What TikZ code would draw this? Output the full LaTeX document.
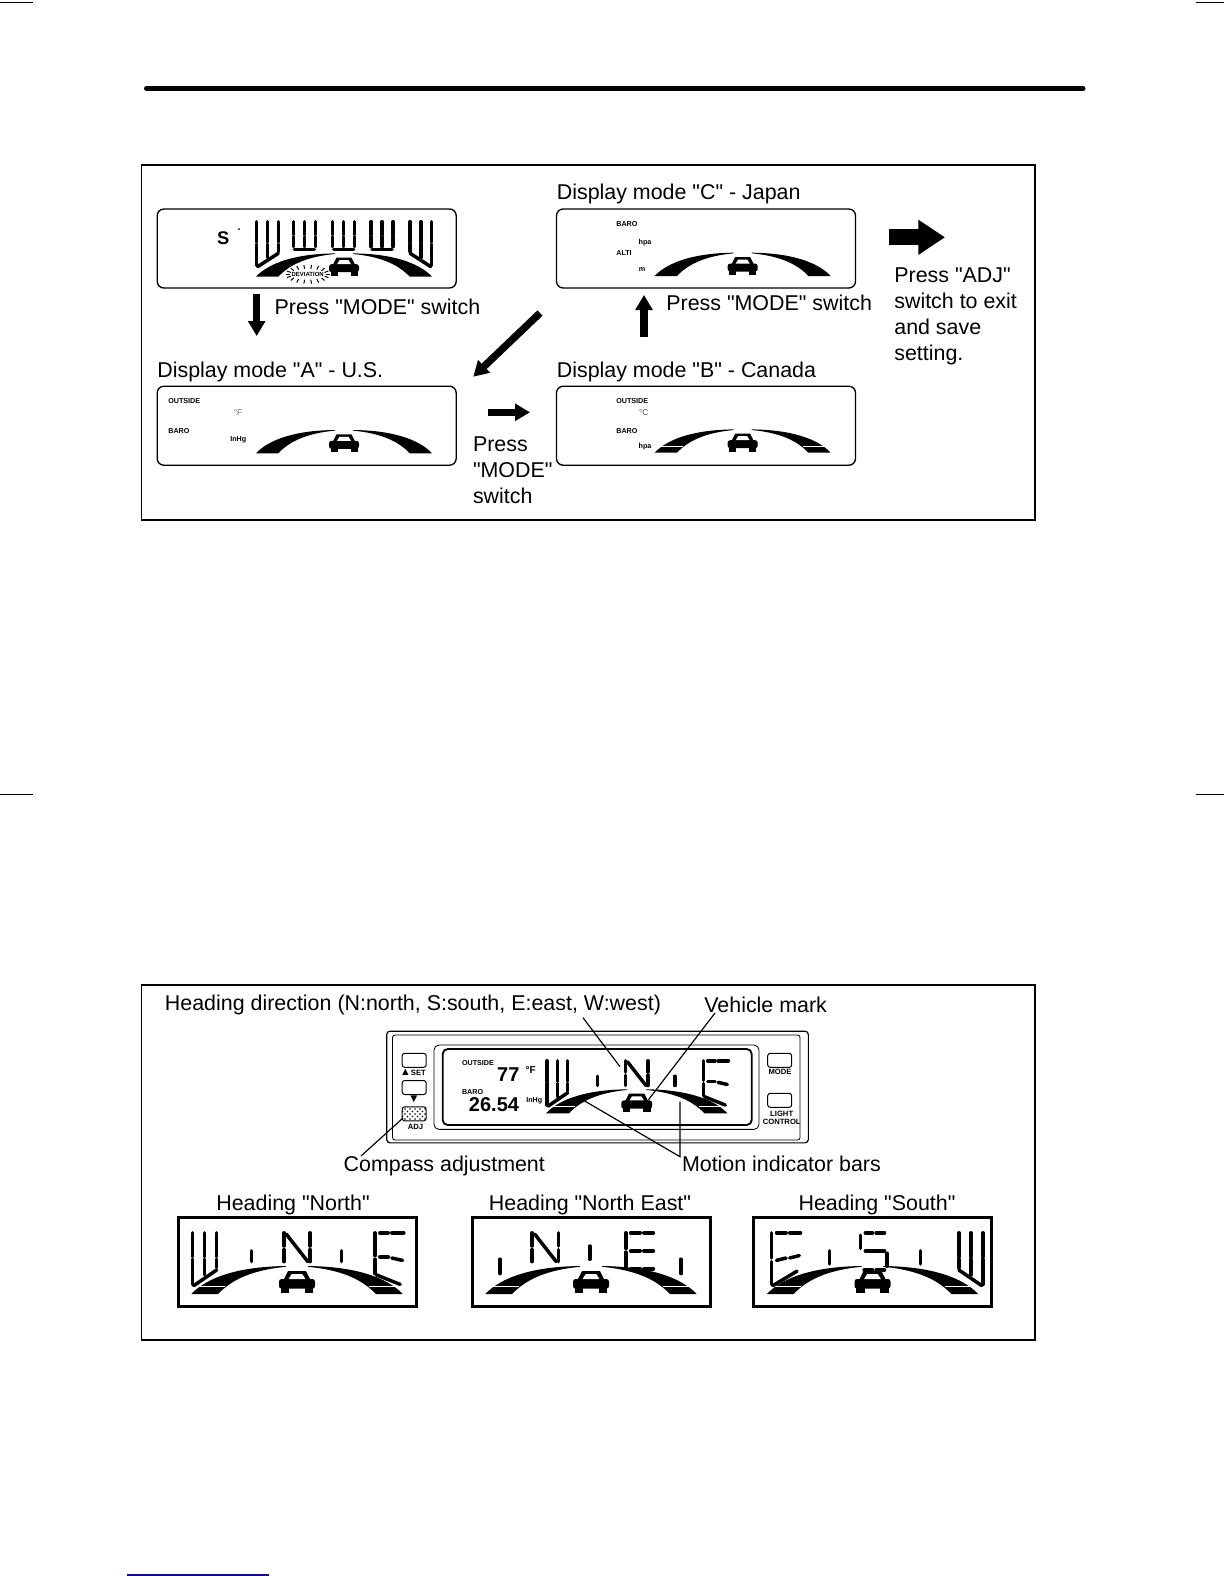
\documentclass[tikz,border=0pt]{standalone}
\usepackage{fontspec}
\setmainfont{Liberation Sans}
\newfontfamily\capfont{Liberation Sans}
\usetikzlibrary{arrows.meta,patterns}

\begin{document}
\begin{tikzpicture}[
    x=0.6pt, y=-0.6pt,
    every pic/.style={transform shape},
    caption/.style={inner sep=0pt, font=\capfont\fontsize{12.85}{15.6}\selectfont},
    panel/.style={draw, line width=0.7pt, minimum width=536.1pt, minimum height=213pt},
    lcdbox/.style={draw, rounded corners=4pt, line width=0.8pt, minimum width=179.4pt, minimum height=47.4pt},
    headbox/.style={draw, line width=1.8pt, minimum width=142.8pt, minimum height=53.4pt},
    lcdtag/.style={inner sep=0pt, font=\fontsize{4.3}{5}\selectfont\bfseries},
    keytag/.style={inner sep=0pt, align=center, font=\fontsize{4.6}{5}\selectfont\bfseries},
    keybox/.style={draw, rounded corners=1.5pt, line width=0.6pt, minimum width=14.4pt, minimum height=8.4pt},
    seg/.style={line width=2.1pt, line cap=round},
    blockarrow/.style={line width=4.4pt, -{Triangle[length=9pt, width=10pt]}},
    leader/.style={line width=0.7pt},
    pics/carmark/.style={code={
        \fill[rounded corners=1.5pt] (-15,-2.5) rectangle (15,5.5);
        \fill (-11.5,-1) -- (-7.5,-9) -- (7.5,-9) -- (11.5,-1) -- cycle;
        \fill[white] (-7,-2.5) -- (-4.5,-6.5) -- (4.5,-6.5) -- (7,-2.5) -- cycle;
        \fill (-13.5,4) rectangle (-6.5,9);
        \fill (6.5,4) rectangle (13.5,9);
    }},
    pics/roadbars/.style={code={
        \fill (-88,10) .. controls (-75,-4) and (-48,-13) .. (-9,-13.3) -- (-9,-12.7) .. controls (-38,-10) and (-55,-1.5) .. (-65.7,10) -- cycle;
        \fill (88,10) .. controls (75,-4) and (48,-13) .. (9,-13.3) -- (9,-12.7) .. controls (38,-10) and (55,-1.5) .. (65.7,10) -- cycle;
        \pic {carmark};
    }},
    pics/barstripes/.style={code={
        \draw[white, line width=0.2pt] (-84,3.5) -- (-60,3.5);
        \draw[white, line width=0.2pt] (60,3.5) -- (84,3.5);
    }},
    pics/tallw/.style={code={
        \foreach \xa in {0,10,20} {
            \draw[seg] (\xa,0) -- (\xa,20);
        }
        \draw[seg] (0,22) -- (0,43);
        \draw[seg] (10,22) -- (10,35);
        \draw[seg] (20,22) -- (20,29);
        \draw[seg] (1,44) -- (20,31);
    }},
    pics/shortw/.style={code={
        \foreach \xa in {0,11,22} {
            \draw[seg] (\xa,0) -- (\xa,13);
            \draw[seg] (\xa,15) -- (\xa,25);
        }
        \draw[seg] (1,28) -- (21,28);
    }},
    pics/lettern/.style={code={
        \draw[seg] (0,0) -- (0,11);
        \draw[seg] (0,14) -- (0,24);
        \draw[seg] (22,0) -- (22,11);
        \draw[seg] (22,14) -- (22,24);
        \draw[seg] (2,1) -- (20,24);
    }},
    pics/letterenorth/.style={code={
        \draw[seg] (0,0) -- (0,19);
        \draw[seg] (0,22) -- (0,34);
        \draw[seg] (4,0) -- (11,0);
        \draw[seg] (14,0) -- (24,0);
        \draw[seg] (4,20) -- (11,20);
        \draw[seg] (14,21) -- (23,23);
        \draw[seg] (1,35) -- (21,43);
    }},
    pics/lettereast/.style={code={
        \draw[seg] (0,0) -- (0,13);
        \draw[seg] (0,16) -- (0,29);
        \foreach \ya in {0,15,30} {
            \draw[seg] (4,\ya) -- (12,\ya);
            \draw[seg] (15,\ya) -- (23,\ya);
        }
    }},
    pics/lettereleft/.style={code={
        \draw[seg] (0,0) -- (0,21);
        \draw[seg] (0,24) -- (0,43);
        \draw[seg] (4,0) -- (12,0);
        \draw[seg] (15,0) -- (24,0);
        \draw[seg] (4,23) -- (12,21);
        \draw[seg] (15,21) -- (23,19);
        \draw[seg] (1,44) -- (21,32);
    }},
    pics/letters/.style={code={
        \draw[seg] (4,0) -- (10,0);
        \draw[seg] (13,0) -- (20,0);
        \draw[seg] (0,2) -- (0,13);
        \draw[seg] (4,15) -- (20,15);
        \draw[seg] (22,17) -- (22,28);
        \draw[seg] (3,31) -- (10,31);
        \draw[seg] (13,31) -- (20,31);
    }},
    pics/northscene/.style={code={
        \pic {roadbars};
        \pic {barstripes};
        \pic at (-87,-41) {tallw};
        \draw[seg] (-38,-26) -- (-38,-17);
        \pic at (-11,-41) {lettern};
        \draw[seg] (37,-26) -- (37,-17);
        \pic at (65,-41) {letterenorth};
    }},
    pics/eastscene/.style={code={
        \pic {roadbars};
        \pic {barstripes};
        \draw[seg] (-76,-19) -- (-76,-7);
        \pic at (-49,-41) {lettern};
        \draw[seg] (-1,-30) -- (-1,-19);
        \pic at (29,-41) {lettereast};
        \draw[seg] (75,-19) -- (75,-7);
    }},
    pics/southscene/.style={code={
        \pic {roadbars};
        \pic {barstripes};
        \pic at (-84,-41) {lettereleft};
        \draw[seg] (-36,-26) -- (-36,-15);
        \pic at (-10,-41) {letters};
        \draw[seg] (40,-26) -- (40,-15);
        \pic[xscale=-1] at (92,-41) {tallw};
    }}
]
\useasboundingbox (0,0) rectangle (1224,1584);

% Page marks
\draw[line width=0.8pt] (0,2.5) -- (33,2.5);
\draw[line width=0.8pt] (1196,2.5) -- (1224,2.5);
\draw[line width=0.8pt] (0,794.5) -- (33,794.5);
\draw[line width=0.8pt] (1196,794.5) -- (1224,794.5);
\draw[line width=3pt, line cap=round] (146.5,88.5) -- (1083,88.5);
\draw[line width=0.8pt, draw={rgb,255:red,20;green,10;blue,130}] (127,1575) -- (269,1575);

% Upper panel
\node[panel] (modepanel) at (588.25,342.5) {};
\node[lcdbox] (devbox) at (306.7,248.5) {};
\node[lcdbox] (modea) at (306.7,425.7) {};
\node[lcdbox] (modec) at (706,248.5) {};
\node[lcdbox] (modeb) at (706,425.7) {};

\node[caption, anchor=west] (capc) at (556.5,193.5) {Display mode "C" - Japan};
\node[caption, anchor=west] (capa) at (157,372) {Display mode "A" - U.S.};
\node[caption, anchor=west] (capb) at (556.5,372) {Display mode "B" - Canada};
\node[caption, anchor=west] (pressa) at (274.3,306.5) {Press "MODE" switch};
\node[caption, anchor=west] (pressc) at (666,302.5) {Press "MODE" switch};
\node[caption, anchor=north west, align=left] (pressb) at (472.7,436.5) {Press\\"MODE"\\switch};
\node[caption, anchor=north west, align=left] (pressadj) at (894,267) {Press "ADJ"\\switch to exit\\and save\\setting.};

% Deviation display
\pic at (344,266.7) {roadbars};
\pic[xscale=1.08, yscale=1.02] at (256.7,221.7) {tallw};
\pic at (293.3,221.7) {shortw};
\pic at (332.7,221.7) {shortw};
\pic at (371,221.7) {shortw};
\pic[xscale=-1.08, yscale=1.02] at (431.7,221.7) {tallw};
\node[inner sep=0pt, font=\fontsize{11}{11}\selectfont\bfseries] (devs) at (223.3,237.7) {S};
\fill (239,229) circle (1);
\node[inner sep=0pt, font=\fontsize{3.6}{4}\selectfont\bfseries] (devlabel) at (307.7,274.3) {DEVIATION};
\begin{scope}[shift={(devlabel)}]
\foreach \a in {0,20,...,340} {
    \draw[line width=0.6pt] (\a:18 and 5.5) -- (\a:22 and 9.5);
}
\end{scope}

% Mode A display
\pic at (344,443.3) {roadbars};
\node[lcdtag, anchor=west] (aoutside) at (168,400.7) {OUTSIDE};
\node[lcdtag, text=black!55, font=\fontsize{5}{5}\selectfont] (adegf) at (238,412.7) {°F};
\node[lcdtag, anchor=west] (abaro) at (168,430.7) {BARO};
\node[lcdtag] (ainhg) at (238.3,440) {InHg};

% Mode B display
\pic at (742.7,442.7) {roadbars};
\pic at (742.7,442.7) {barstripes};
\node[lcdtag, anchor=west] (boutside) at (616,400.7) {OUTSIDE};
\node[lcdtag, text=black!70, font=\fontsize{5}{5}\selectfont] (bdegc) at (643.7,412.7) {°C};
\node[lcdtag, anchor=west] (bbaro) at (616,430.7) {BARO};
\node[lcdtag] (bhpa) at (645,446.7) {hpa};

% Mode C display
\pic at (742.7,266) {roadbars};
\node[lcdtag, anchor=west] (cbaro) at (616,224) {BARO};
\node[lcdtag] (chpa) at (645,242.7) {hpa};
\node[lcdtag, anchor=west] (calti) at (616,253.3) {ALTI};
\node[lcdtag] (cm) at (642,270) {m};

% Arrows of the upper panel
\coordinate (downtail) at (256.7,294.3);
\coordinate (downtip) at (256.7,336);
\coordinate (slanttail) at (540,313);
\coordinate (slanttip) at (473.3,376.7);
\coordinate (righttail) at (488.3,412.3);
\coordinate (righttip) at (530,412.3);
\coordinate (uptail) at (644,336.7);
\coordinate (uptip) at (644,295);
\coordinate (exittail) at (889,237.3);
\coordinate (exittip) at (945,237.3);
\draw[blockarrow] (downtail) -- (downtip);
\draw[blockarrow] (slanttail) -- (slanttip);
\draw[blockarrow] (righttail) -- (righttip);
\draw[blockarrow] (uptail) -- (uptip);
\draw[line width=9.4pt, -{Triangle[length=16pt, width=20pt]}] (exittail) -- (exittip);

% Lower panel
\node[panel] (headpanel) at (588.25,1162.5) {};
\node[draw, rounded corners=2pt, line width=0.7pt, minimum width=253pt, minimum height=67pt] (shell) at (597.5,1087) {};
\node[draw, rounded corners=1.5pt, line width=0.5pt, minimum width=244.5pt, minimum height=63pt] (bezel) at (596.3,1087.5) {};
\node[draw, rounded corners=3pt, line width=0.5pt, minimum width=195pt, minimum height=50.6pt] (lcdframe) at (596.5,1087.2) {};
\node[draw, rounded corners=3pt, line width=1.1pt, minimum width=185.4pt, minimum height=45.6pt] (lcdmain) at (597.2,1087) {};

% Keys
\node[keybox] (setkey) at (414.2,1060.3) {};
\node[keybox] (downkey) at (414.2,1087.5) {};
\node[keybox, pattern=crosshatch dots, pattern color=black] (adjkey) at (414.2,1113.8) {};
\node[keybox] (modekey) at (779.7,1060.3) {};
\node[keybox] (lightkey) at (779.7,1100.3) {};
\node[keytag] (settag) at (413,1072) {{\fontsize{6.5}{5}\selectfont ▲}SET};
\node[keytag, font=\fontsize{7}{6}\selectfont] (downtag) at (414,1099) {▼};
\node[keytag] (adjtag) at (415.5,1126.7) {ADJ};
\node[keytag] (modetag) at (780,1072) {MODE};
\node[keytag] (lighttag) at (781.7,1118) {LIGHT\\CONTROL};

% Main display
\pic[scale=1.03] at (636.7,1103) {northscene};
\node[lcdtag, anchor=west] (moutside) at (461.7,1063) {OUTSIDE};
\node[inner sep=0pt, font=\fontsize{12}{12}\selectfont\bfseries] (mtemp) at (508.3,1075) {77};
\node[lcdtag, font=\fontsize{6}{6}\selectfont\bfseries] (mdegf) at (530.7,1070) {°F};
\node[lcdtag, anchor=west] (mbaro) at (461.7,1092.3) {BARO};
\node[inner sep=0pt, font=\fontsize{12}{12}\selectfont\bfseries] (mpress) at (494,1104.3) {26.54};
\node[lcdtag] (minhg) at (534.3,1100.7) {InHg};

% Callouts
\node[caption, anchor=west] (headcap) at (164.6,1005) {Heading direction (N:north, S:south, E:east, W:west)};
\node[caption, anchor=west] (vehcap) at (704,1005) {Vehicle mark};
\node[caption, anchor=west] (compcap) at (343.4,1165.5) {Compass adjustment};
\node[caption, anchor=west] (motioncap) at (681.7,1163.5) {Motion indicator bars};
\coordinate (headfrom) at (583,1017.7);
\coordinate (headto) at (620,1066.7);
\coordinate (vehfrom) at (715,1013);
\coordinate (vehto) at (648.3,1100);
\coordinate (compfrom) at (403,1118);
\coordinate (compto) at (361,1156);
\coordinate (motionapex) at (680,1156.7);
\coordinate (motionleft) at (583,1100);
\coordinate (motionright) at (680,1101.7);
\draw[leader] (headfrom) -- (headto);
\draw[leader] (vehfrom) -- (vehto);
\draw[leader] (compfrom) -- (compto);
\draw[leader] (motionleft) -- (motionapex) -- (motionright);

% Heading displays
\node[caption] (northcap) at (293,1205) {Heading "North"};
\node[caption] (eastcap) at (590,1205) {Heading "North East"};
\node[caption] (southcap) at (877,1205) {Heading "South"};
\node[headbox] (northbox) at (297,1261.5) {};
\node[headbox] (eastbox) at (591,1261.5) {};
\node[headbox] (southbox) at (872.5,1261.5) {};
\pic[scale=1.2] at (297,1282) {northscene};
\pic[scale=1.2] at (591,1282) {eastscene};
\pic[scale=1.2] at (872.5,1282) {southscene};
\end{tikzpicture}
\end{document}
